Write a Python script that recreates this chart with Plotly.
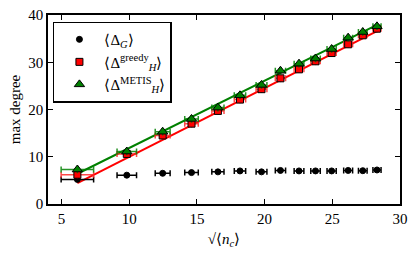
import numpy as np
import plotly.graph_objects as go

# data
x_nc = [6.17, 9.82, 12.47, 14.6, 16.55, 18.18, 19.77, 21.17, 22.54, 23.76, 24.95, 26.17, 27.25, 28.3]
x_err = [1.2, 0.72, 0.55, 0.5, 0.45, 0.42, 0.4, 0.38, 0.36, 0.35, 0.34, 0.33, 0.32, 0.3]
delta_g = [5.2, 6.1, 6.5, 6.65, 6.8, 7.0, 6.8, 7.1, 7.0, 7.0, 7.0, 7.1, 7.05, 7.2]
delta_greedy = [6.2, 10.6, 14.5, 17.0, 19.7, 22.1, 24.3, 26.6, 28.5, 30.2, 31.95, 33.8, 35.7, 37.1]
delta_metis = [7.3, 11.1, 15.3, 18.0, 20.4, 23.0, 25.2, 28.2, 29.7, 30.8, 32.8, 35.2, 36.4, 37.6]
yerr_g = [0.3] * 14
yerr_greedy = [0.8] * 14
yerr_metis = [0.8] * 14
fit_greedy = [1.455, -4.58]   # slope, intercept
fit_metis = [1.423, -2.38]

xt = [5, 10, 15, 20, 25, 30]
yt = [0, 10, 20, 30, 40]

FONT = "Liberation Serif"
RED = "#ff0000"
GREEN = "#008000"

fig = go.Figure()

xa = np.array(x_nc)
for fit, col in [(fit_greedy, RED), (fit_metis, GREEN)]:
    fig.add_trace(go.Scatter(x=xa, y=fit[0] * xa + fit[1], mode="lines",
                             line=dict(color=col, width=2), showlegend=False,
                             hoverinfo="skip"))

series = [
    ("⟨Δ<sub><i>G</i></sub>⟩", delta_g, yerr_g, "black", "circle", 6, "black"),
    ("⟨Δ<sup>greedy</sup><sub><i>H</i></sub>⟩", delta_greedy, yerr_greedy, RED, "square", 7, "rgba(255,40,40,0.85)"),
    ("⟨Δ<sup>METIS</sup><sub><i>H</i></sub>⟩", delta_metis, yerr_metis, GREEN, "triangle-up", 9, "rgba(0,128,0,0.85)"),
]
for name, ys, ye, col, sym, sz, ecol in series:
    fig.add_trace(go.Scatter(
        x=x_nc, y=ys, mode="markers", name=name,
        marker=dict(color=col, symbol=sym, size=sz, line=dict(color="black", width=1)),
        error_x=dict(type="data", array=x_err, color=ecol, thickness=1.5, width=3),
        error_y=dict(type="data", array=ye, color=ecol, thickness=1.5, width=0),
    ))

axis_common = dict(showline=True, linecolor="black", linewidth=1.5, mirror="allticks",
                   ticks="inside", ticklen=5, tickwidth=1, tickcolor="black",
                   showgrid=False, zeroline=False,
                   tickfont=dict(family=FONT, size=15, color="black"))

fig.update_layout(
    width=415, height=256,
    margin=dict(l=48, r=10, t=7, b=52),
    paper_bgcolor="white", plot_bgcolor="white",
    font=dict(family=FONT, size=15, color="black"),
    xaxis=dict(range=[4, 30], tickvals=xt, **axis_common,
               title=dict(text="√⟨<i>n</i><sub><i>c</i></sub>⟩", font=dict(size=15), standoff=8)),
    yaxis=dict(range=[0, 40], tickvals=yt, **axis_common,
               title=dict(text="max degree", font=dict(size=15), standoff=4)),
    legend=dict(x=0.014, y=0.965, xanchor="left", yanchor="top",
                bgcolor="white", bordercolor="black", borderwidth=1.5,
                font=dict(family=FONT, size=15), tracegroupgap=0, itemwidth=40),
    showlegend=True,
)

fig.write_html("out.html", config={"displayModeBar": False},
               post_script="document.body.style.margin='0';document.body.style.padding='0';")
